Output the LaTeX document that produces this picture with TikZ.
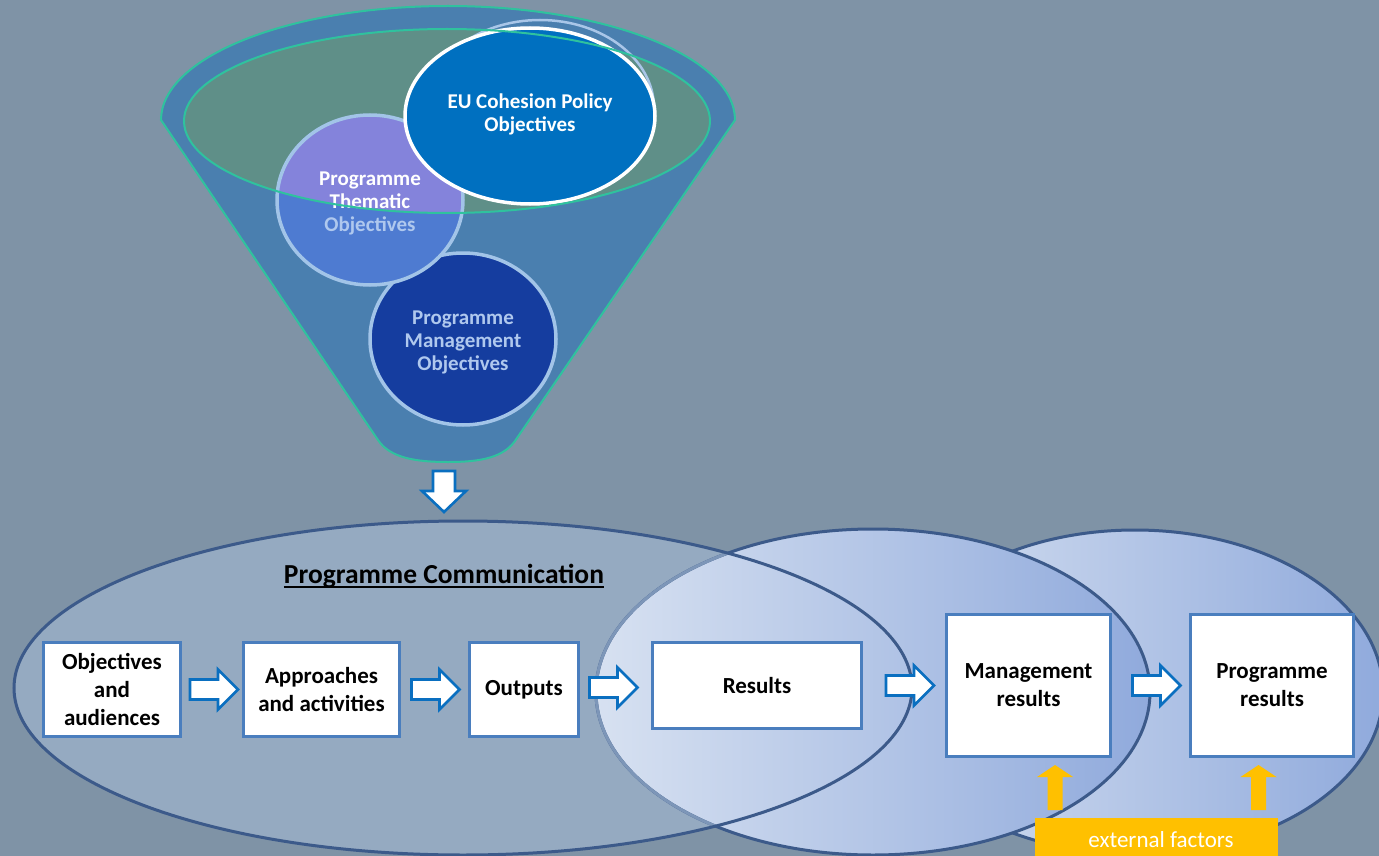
\documentclass[tikz,border=0pt]{standalone}
\usepackage{fontspec}
\setmainfont{Carlito}
\usetikzlibrary{calc}

\definecolor{bg}{HTML}{7F93A6}
\definecolor{funnelc}{HTML}{4A7FAF}
\definecolor{rimfill}{HTML}{5F8F88}
\definecolor{rimline}{HTML}{2FC29E}
\definecolor{eublue}{HTML}{0070C0}
\definecolor{palering}{HTML}{A9C6E8}
\definecolor{thblue}{HTML}{4E7BD1}
\definecolor{thlav}{HTML}{8483DB}
\definecolor{mgblue}{HTML}{153D9F}
\definecolor{ringblue}{HTML}{A2C4E8}
\definecolor{txtblue}{HTML}{AFC8EE}
\definecolor{commfill}{HTML}{95AAC1}
\definecolor{ellline}{HTML}{3C5A8A}
\definecolor{fadeline}{HTML}{7D96B8}
\definecolor{gradl}{HTML}{D7E1F1}
\definecolor{gradr}{HTML}{90AADC}
\definecolor{boxblue}{HTML}{4A7EBE}
\definecolor{arrowblue}{HTML}{0A6FC0}
\definecolor{extyellow}{HTML}{FFC000}

\begin{document}
\begin{tikzpicture}[x=1pt,y=-1pt,
  stepbox/.style={draw=boxblue, line width=3pt, fill=white, align=center,
    inner sep=0pt, font=\fontsize{23}{28}\selectfont\bfseries},
  circtext/.style={align=center, inner sep=0pt,
    font=\fontsize{21}{23}\selectfont\bfseries},
  greenline/.style={draw=rimline, line width=2pt},
  bigline/.style={draw=ellline, line width=3pt},
  blockarrow/.style={fill=white, draw=arrowblue, line width=2.6pt, line join=miter},
  rarrow/.pic={\path[blockarrow] (-24,-10) -- (4,-10) -- (4,-20) -- (24,0)
      -- (4,20) -- (4,10) -- (-24,10) -- cycle;},
  darrow/.pic={\path[blockarrow] (-11,-20) -- (11,-20) -- (11,0) -- (22,0)
      -- (0,21) -- (-22,0) -- (-11,0) -- cycle;},
  yarrow/.pic={\fill[extyellow] (-7.5,0) -- (-7.5,-33) -- (-18,-33) -- (0,-45)
      -- (18,-33) -- (7.5,-33) -- (7.5,0) -- cycle;}
]
\useasboundingbox (0,0) rectangle (1379,856);
\clip (0,0) rectangle (1379,856);
\fill[bg] (0,0) rectangle (1379,856);

% ---------- funnel ----------
\def\funnelpath{(161,120) arc[start angle=180, end angle=360, x radius=287, y radius=114]
  -- (517,438) .. controls (505,458) and (480,462) .. (448,462)
  .. controls (416,462) and (390,458) .. (378,440) -- cycle}
\fill[funnelc] \funnelpath;
\fill[rimfill] (447,121) ellipse[x radius=263, y radius=92];

% objective circles
\fill[mgblue] (463,339) ellipse[x radius=93, y radius=86];
\draw[ringblue, line width=3.5pt] (463,339) ellipse[x radius=93, y radius=86];

\fill[thblue] (370,200) ellipse[x radius=93, y radius=85];
\begin{scope}
  \clip (447,121) ellipse[x radius=263, y radius=92];
  \fill[thlav] (370,200) ellipse[x radius=93, y radius=85];
\end{scope}
\draw[ringblue, line width=3.5pt] (370,200) ellipse[x radius=93, y radius=85];

\draw[palering, line width=2.5pt] (540,108) ellipse[x radius=114, y radius=88];
\fill[eublue] (530,116) ellipse[x radius=125, y radius=88];
\draw[white, line width=3.5pt] (530,116) ellipse[x radius=125, y radius=88];

\node[circtext, text=white] (eutxt) at (530,114) {EU Cohesion Policy\\Objectives};
\node[circtext, text=white] (thtxt) at (370,203) {Programme\\Thematic\\\textcolor{txtblue}{Objectives}};
\node[circtext, text=txtblue] (mgtxt) at (463,342) {Programme\\Management\\Objectives};

% rim outlines
\path[greenline] \funnelpath;
\path[greenline] (447,121) ellipse[x radius=263, y radius=92];

\coordinate (funnelout) at (444,491);
\pic at (funnelout) {darrow};

% ---------- communication ellipses ----------
\fill[commfill] (463,688) ellipse[x radius=449, y radius=167];
\path[bigline, left color=gradl, right color=gradr] (1135,692) ellipse[x radius=248, y radius=162];
\path[bigline, left color=gradl, right color=gradr] (873,692) ellipse[x radius=277, y radius=163];
\begin{scope}
  \clip (463,688) ellipse[x radius=449, y radius=167];
  \draw[fadeline, line width=3pt] (873,692) ellipse[x radius=277, y radius=163];
\end{scope}
\path[bigline] (463,688) ellipse[x radius=449, y radius=167];

\node[anchor=base, inner sep=0pt, font=\fontsize{27.5}{30}\selectfont\bfseries] (pc) at (444,583) {Programme Communication};
\draw[line width=1.8pt] ([yshift=-4pt]pc.base west) -- ([yshift=-4pt]pc.base east);

% ---------- steps ----------
\node[stepbox, minimum width=137pt, minimum height=94pt] (obj) at (112,689.5) {Objectives\\and\\audiences};
\node[stepbox, minimum width=156pt, minimum height=94pt] (app) at (321.5,689.5) {Approaches\\and activities};
\node[stepbox, minimum width=109pt, minimum height=94pt] (out) at (524,689.5) {Outputs};
\node[stepbox, minimum width=209pt, minimum height=86pt] (res) at (757,685.5) {Results};
\node[stepbox, minimum width=164pt, minimum height=142pt] (mres) at (1028.5,685.5) {Management\\results};
\node[stepbox, minimum width=163pt, minimum height=142pt] (pres) at (1272,685.5) {Programme\\results};

\pic at ($(obj.east)!0.5!(app.west)+(2,0)$) {rarrow};
\pic at ($(app.east)!0.5!(out.west)+(1,0)$) {rarrow};
\pic at ($(out.east)!0.5!(res.west)+(-2,0)$) {rarrow};
\pic at ($(res.east)!0.5!(mres.west)+(6,0)$) {rarrow};
\pic at ($(mres.east)!0.5!(pres.west)+(6,0)$) {rarrow};

% ---------- external factors ----------
\node[fill=extyellow, minimum width=243pt, minimum height=44pt, inner sep=0pt,
  text=white, font=\fontsize{23}{26}\selectfont] (ext) at (1156.5,840) {\hspace{9pt}external factors};
\coordinate (extl) at (1055,810);
\coordinate (extr) at (1258.5,810);
\pic at (extl) {yarrow};
\pic at (extr) {yarrow};
\end{tikzpicture}
\end{document}
